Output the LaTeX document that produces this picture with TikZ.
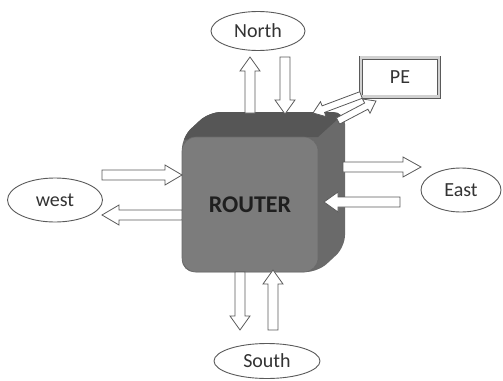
\documentclass[tikz,border=0pt]{standalone}
\usepackage{fontspec}
\setmainfont{Carlito}
\usetikzlibrary{shapes.geometric}

\definecolor{edgegray}{HTML}{5A5A5A}
\definecolor{frontgray}{HTML}{7C7C7C}
\definecolor{topgray}{HTML}{565656}
\definecolor{sidegray}{HTML}{6A6A6A}
\definecolor{labelgray}{HTML}{333333}

\tikzset{
  portlabel/.style={ellipse, draw=edgegray, line width=0.9pt, fill=white,
    inner sep=0pt, text=labelgray, font=\fontsize{20}{22}\selectfont},
  blockarrow/.style={draw=edgegray, line width=0.8pt, fill=white, line join=miter},
}

% Outlined block arrow from coordinate #1 to coordinate #2;
% #3 = half shaft width, #4 = half head width, #5 = head length (pt)
\newcommand\blockarr[5]{%
  \pgfpointanchor{#1}{center}\pgfgetlastxy{\bax}{\bay}%
  \pgfpointanchor{#2}{center}\pgfgetlastxy{\bbx}{\bby}%
  \pgfmathsetmacro\bang{atan2(\bby-\bay,\bbx-\bax)}%
  \pgfmathsetmacro\blen{veclen(\bbx-\bax,\bby-\bay)}%
  \begin{scope}[shift={(\bax,\bay)},rotate=\bang]
    \draw[blockarrow] (0pt,-#3pt) -- ({\blen pt-#5pt},-#3pt) -- ({\blen pt-#5pt},-#4pt)
      -- (\blen pt,0pt) -- ({\blen pt-#5pt},#4pt) -- ({\blen pt-#5pt},#3pt)
      -- (0pt,#3pt) -- cycle;
  \end{scope}}

\begin{document}
\begin{tikzpicture}[x=1pt,y=-1pt]
\useasboundingbox (0,0) rectangle (503,380);

% depth of the router block (top and right faces)
\begin{scope}
  \clip[rounded corners=12pt] (182,272) -- (182,137) -- (209,112) -- (345,112)
    -- (345,247) -- (318,272) -- cycle;
  \fill[sidegray] (170,100) rectangle (360,290);
  \fill[topgray] (170,140) -- (318,137) -- (350,108) -- (350,100) -- (170,100) -- cycle;
\end{scope}

% front face
\node[draw=frontgray!85!black, line width=0.6pt, fill=frontgray, rounded corners=14pt,
  minimum width=136pt, minimum height=135pt, inner sep=0pt,
  text=black!88, font=\bfseries\fontsize{24}{26}\selectfont] (router) at (250,204.5) {ROUTER};

% port ends
\node[portlabel, minimum width=94pt, minimum height=39pt] (north) at (258,31) {North};
\node[portlabel, minimum width=95pt, minimum height=44pt] (west) at (55,200) {west};
\node[portlabel, minimum width=80pt, minimum height=44pt] (east) at (461,190) {East};
\node[portlabel, minimum width=106pt, minimum height=35pt] (south) at (267,361) {South};

% processing element
\node[draw=edgegray, line width=0.9pt, double=black!18, double distance=2.2pt,
  minimum width=78pt, minimum height=39pt, inner sep=0pt, text=labelgray,
  font=\fontsize{20}{22}\selectfont] (pe) at (400,77) {PE};

% arrow ends
\coordinate (nUpA) at (250,113);  \coordinate (nUpB) at (250,57);
\coordinate (nDnA) at (285,57);   \coordinate (nDnB) at (285,114);
\coordinate (peInA) at (361,95);  \coordinate (peInB) at (313,113);
\coordinate (peOutA) at (338,121); \coordinate (peOutB) at (376,101);
\coordinate (wInA) at (102,175);  \coordinate (wInB) at (182,175);
\coordinate (wOutA) at (182,215); \coordinate (wOutB) at (102,215);
\coordinate (eOutA) at (343,167); \coordinate (eOutB) at (421,167);
\coordinate (eInA) at (400,202);  \coordinate (eInB) at (324,202);
\coordinate (sOutA) at (240,272); \coordinate (sOutB) at (240,330);
\coordinate (sInA) at (273,330);  \coordinate (sInB) at (273,270);

\blockarr{nUpA}{nUpB}{5}{10}{14}
\blockarr{nDnA}{nDnB}{5}{10}{14}
\blockarr{peInA}{peInB}{3.5}{8}{11}
\blockarr{peOutA}{peOutB}{3.5}{8}{11}
\blockarr{wInA}{wInB}{5}{10}{17}
\blockarr{wOutA}{wOutB}{5}{10}{17}
\blockarr{eOutA}{eOutB}{5}{10}{18}
\blockarr{eInA}{eInB}{5}{10}{14}
\blockarr{sOutA}{sOutB}{5}{10}{14}
\blockarr{sInA}{sInB}{5}{10}{14}
\end{tikzpicture}
\end{document}
